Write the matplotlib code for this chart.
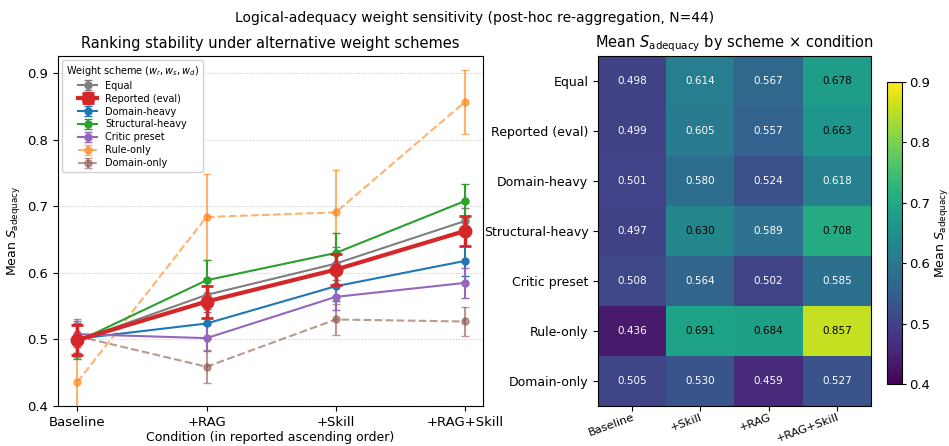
import matplotlib
matplotlib.use("Agg")
import matplotlib.pyplot as plt
import numpy as np

conditions = ["Baseline", "+RAG", "+Skill", "+RAG+Skill"]
heat_conditions = ["Baseline", "+Skill", "+RAG", "+RAG+Skill"]
schemes = ["Equal", "Reported (eval)", "Domain-heavy", "Structural-heavy",
           "Critic preset", "Rule-only", "Domain-only"]

# means in left-plot condition order
equal = [0.498, 0.567, 0.614, 0.678]
reported = [0.499, 0.557, 0.605, 0.663]
domain_heavy = [0.501, 0.524, 0.580, 0.618]
structural_heavy = [0.497, 0.589, 0.630, 0.708]
critic = [0.508, 0.502, 0.564, 0.585]
rule_only = [0.436, 0.684, 0.691, 0.857]
domain_only = [0.505, 0.459, 0.530, 0.527]

# error half-widths
equal_err = [0.025, 0.025, 0.025, 0.020]
reported_err = [0.022, 0.024, 0.023, 0.022]
domain_heavy_err = [0.022, 0.022, 0.022, 0.022]
structural_heavy_err = [0.027, 0.030, 0.030, 0.026]
critic_err = [0.020, 0.020, 0.020, 0.022]
rule_only_err = [0.065, 0.065, 0.064, 0.048]
domain_only_err = [0.025, 0.025, 0.024, 0.022]

means = [equal, reported, domain_heavy, structural_heavy, critic, rule_only, domain_only]
errs = [equal_err, reported_err, domain_heavy_err, structural_heavy_err, critic_err,
        rule_only_err, domain_only_err]
colors = ["tab:gray", "tab:red", "tab:blue", "tab:green", "tab:purple", "tab:orange", "tab:brown"]

plt.rcParams["xtick.labelsize"] = 9.5
plt.rcParams["ytick.labelsize"] = 9.5

fig = plt.figure(figsize=(9.49, 4.46), dpi=100)
W, H = 949, 446
ax = fig.add_axes([58 / W, 1 - 406 / H, (483 - 58) / W, (406 - 56) / H])
ax2 = fig.add_axes([598 / W, 1 - 406 / H, (871 - 598) / W, (406 - 56) / H])
cax = fig.add_axes([887 / W, 1 - 384 / H, 15 / W, (384 - 82) / H])

x = np.arange(len(conditions))
for name, m, e, c in zip(schemes, means, errs, colors):
    if name == "Reported (eval)":
        ax.errorbar(x, m, yerr=e, color=c, marker="o", markersize=9, lw=3,
                    capsize=4, capthick=2, elinewidth=2.5, label=name, zorder=5)
    elif name in ("Rule-only", "Domain-only"):
        ax.errorbar(x, m, yerr=e, color=c, marker="o", markersize=5, lw=1.5,
                    ls="--", capsize=3, alpha=0.6, label=name, zorder=3)
    else:
        ax.errorbar(x, m, yerr=e, color=c, marker="o", markersize=5, lw=1.5,
                    capsize=3, label=name, zorder=4)

ax.set_xticks(x)
ax.set_xticklabels(conditions)
ax.set_xlim(-0.15, 3.14)
ax.set_ylim(0.4, 0.926)
ax.set_yticks([0.4, 0.5, 0.6, 0.7, 0.8, 0.9])
ax.set_yticklabels(["0.4", "0.5", "0.6", "0.7", "0.8", "0.9"])
ax.yaxis.grid(True, ls=":", color="#cccccc", lw=0.8)
ax.set_axisbelow(True)
ax.set_xlabel("Condition (in reported ascending order)", fontsize=9, labelpad=2)
ax.set_ylabel(r"Mean $S_{\mathrm{adequacy}}$", fontsize=9)
ax.set_title("Ranking stability under alternative weight schemes", fontsize=10.5)
leg = ax.legend(title=r"Weight scheme ($w_r, w_s, w_d$)", fontsize=7, title_fontsize=7,
                loc="upper left", framealpha=0.9, labelspacing=0.3,
                borderaxespad=0.4)

# heatmap
order = [conditions.index(c) for c in heat_conditions]
data = np.array([[m[i] for i in order] for m in means])
im = ax2.imshow(data, cmap="viridis", vmin=0.4, vmax=0.9, aspect="auto")
for i in range(data.shape[0]):
    for j in range(data.shape[1]):
        v = data[i, j]
        ax2.text(j, i, f"{v:.3f}", ha="center", va="center", fontsize=7.5,
                 color="black" if v > 0.625 else "white")
ax2.set_xticks(np.arange(len(heat_conditions)))
ax2.set_xticklabels(heat_conditions, rotation=20, ha="right", va="top",
                    rotation_mode="anchor", fontsize=8.2)
ax2.tick_params(axis="x", pad=1)
ax2.set_yticks(np.arange(len(schemes)))
ax2.set_yticklabels(schemes, fontsize=9)
ax2.set_title(r"Mean $S_{\mathrm{adequacy}}$ by scheme $\times$ condition", fontsize=10.5)
cb = fig.colorbar(im, cax=cax)
cb.set_ticks([0.4, 0.5, 0.6, 0.7, 0.8, 0.9])
cb.ax.tick_params(labelsize=9.5, length=3, pad=2)
cb.set_label(r"Mean $S_{\mathrm{adequacy}}$", fontsize=9, labelpad=2)

fig.suptitle("Logical-adequacy weight sensitivity (post-hoc re-aggregation, N=44)",
             fontsize=10, y=0.975)
fig.savefig("out.png", dpi=100)
